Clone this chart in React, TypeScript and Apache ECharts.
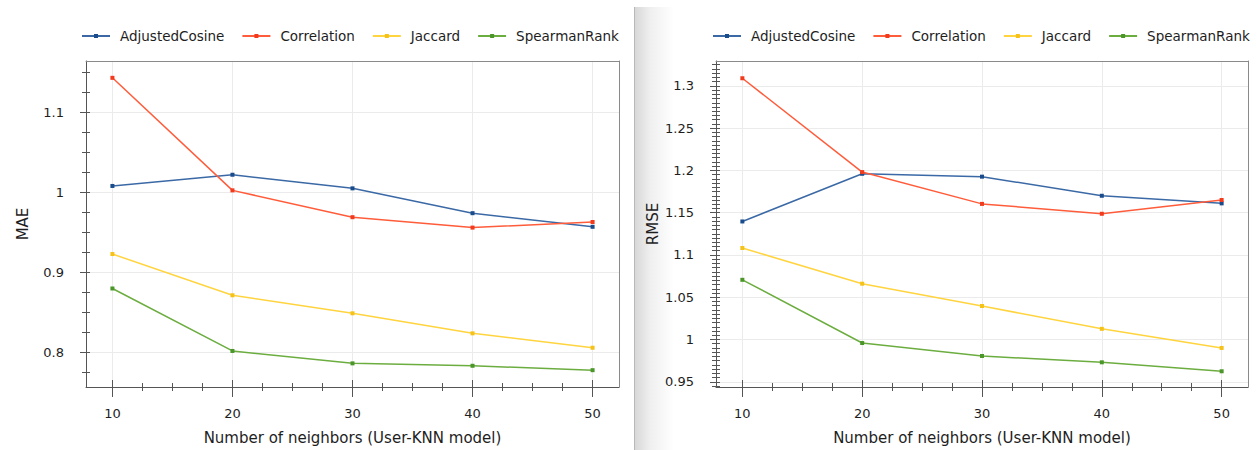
import React, { useEffect, useRef } from "react";
import * as echarts from "echarts";

const xValues = [10, 20, 30, 40, 50];
const seriesNames = ["AdjustedCosine", "Correlation", "Jaccard", "SpearmanRank"];

const maeAdjustedCosine = [1.008, 1.022, 1.005, 0.974, 0.957];
const maeCorrelation = [1.143, 1.0025, 0.969, 0.956, 0.963];
const maeJaccard = [0.923, 0.8715, 0.849, 0.824, 0.806];
const maeSpearmanRank = [0.88, 0.802, 0.7865, 0.7835, 0.778];

const rmseAdjustedCosine = [1.1396, 1.196, 1.1926, 1.17, 1.161];
const rmseCorrelation = [1.309, 1.198, 1.1604, 1.1487, 1.165];
const rmseJaccard = [1.1082, 1.066, 1.0396, 1.0126, 0.99];
const rmseSpearmanRank = [1.0706, 0.9958, 0.9805, 0.973, 0.9624];

const xTickLabels = [10, 20, 30, 40, 50];
const maeTickLabels = [0.8, 0.9, 1, 1.1];
const rmseTickLabels = [0.95, 1, 1.05, 1.1, 1.15, 1.2, 1.25, 1.3];

const lineColors = ["#3b69a6", "#ff5c3b", "#ffd43f", "#6cad40"];
const markerColors = ["#1a4c8c", "#f23a1c", "#f5c21a", "#4a9628"];

const FONT = "DejaVu Sans";
const TEXT = "#1e1e1e";

function steps(start: number, end: number, step: number): number[] {
  const out: number[] = [];
  const n = Math.round((end - start) / step);
  for (let i = 0; i <= n; i++) out.push(Math.round((start + i * step) * 10000) / 10000);
  return out;
}

const xMinorTicks = steps(10, 50, 2.5);
const maeMinorTicks = steps(0.775, 1.15, 0.025);
const rmseMinorTicks = steps(0.945, 1.325, 0.005);

const X_MIN = 7.8;
const X_MAX = 52.2;

function xAxes(gridIndex: number) {
  const base = { type: "value", gridIndex, min: X_MIN, max: X_MAX };
  return [
    {
      ...base,
      position: "bottom",
      axisLine: { show: true, lineStyle: { color: "#555", width: 1 } },
      axisTick: { show: false },
      axisLabel: { customValues: xTickLabels, margin: 20, color: TEXT, fontSize: 13, fontFamily: FONT },
      splitLine: { show: true, lineStyle: { color: "#ebebeb", width: 1 } },
      name: "Number of neighbors (User-KNN model)",
      nameLocation: "middle",
      nameGap: 43,
      nameTextStyle: { color: TEXT, fontSize: 15, fontFamily: FONT },
    },
    {
      ...base,
      position: "top",
      axisLine: { show: true, lineStyle: { color: "#8a8a8a", width: 1 } },
      axisTick: { show: false },
      axisLabel: { show: false },
      splitLine: { show: false },
    },
    {
      ...base,
      position: "bottom",
      offset: 10,
      axisLine: { show: false },
      axisTick: { show: true, inside: true, length: 17, customValues: xTickLabels, lineStyle: { color: "#555" } },
      axisLabel: { show: false },
      splitLine: { show: false },
    },
    {
      ...base,
      position: "bottom",
      offset: 4,
      axisLine: { show: false },
      axisTick: { show: true, inside: true, length: 8, customValues: xMinorTicks, lineStyle: { color: "#555" } },
      axisLabel: { show: false },
      splitLine: { show: false },
    },
  ];
}

function yAxes(gridIndex: number, min: number, max: number, splitNumber: number, labels: number[], minor: number[], name: string) {
  const base = { type: "value", gridIndex, min, max };
  return [
    {
      ...base,
      position: "left",
      splitNumber,
      axisLine: { show: true, lineStyle: { color: "#555", width: 1 } },
      axisTick: { show: false },
      axisLabel: { customValues: labels, margin: 22, color: TEXT, fontSize: 13, fontFamily: FONT },
      splitLine: { show: true, lineStyle: { color: "#ebebeb", width: 1 } },
      name,
      nameLocation: "middle",
      nameGap: 56,
      nameTextStyle: { color: TEXT, fontSize: 15, fontFamily: FONT },
    },
    {
      ...base,
      position: "right",
      axisLine: { show: true, lineStyle: { color: "#8a8a8a", width: 1 } },
      axisTick: { show: false },
      axisLabel: { show: false },
      splitLine: { show: false },
    },
    {
      ...base,
      position: "left",
      offset: 6,
      axisLine: { show: false },
      axisTick: { show: true, inside: true, length: 10, customValues: labels, lineStyle: { color: "#555" } },
      axisLabel: { show: false },
      splitLine: { show: false },
    },
    {
      ...base,
      position: "left",
      offset: 4,
      axisLine: { show: false },
      axisTick: { show: true, inside: true, length: 8, customValues: minor, lineStyle: { color: "#555" } },
      axisLabel: { show: false },
      splitLine: { show: false },
    },
  ];
}

function makeSeries(gridIndex: number, values: number[][]) {
  return values.map((vals, i) => ({
    type: "line",
    name: seriesNames[i],
    xAxisIndex: gridIndex * 4,
    yAxisIndex: gridIndex * 4,
    data: xValues.map((x, j) => [x, vals[j]]),
    symbol: "rect",
    symbolSize: 4,
    showSymbol: true,
    lineStyle: { color: lineColors[i], width: 1.5 },
    itemStyle: { color: markerColors[i] },
    z: 3 + i,
  }));
}

function legend(left: number) {
  return {
    left,
    top: 24,
    width: 600,
    orient: "horizontal",
    itemWidth: 28,
    itemHeight: 5,
    itemGap: 17,
    data: seriesNames,
    textStyle: { color: TEXT, fontSize: 13.5, fontFamily: FONT, padding: [0, 0, 0, 5] },
  };
}

export default function App() {
  const ref = useRef<HTMLDivElement>(null);
  useEffect(() => {
    if (!ref.current) return;
    const chart = echarts.init(ref.current, undefined, { renderer: "svg" });
    const option = {
      animation: false,
      backgroundColor: "#ffffff",
      textStyle: { fontFamily: FONT },
      legend: [legend(76), legend(707)],
      grid: [
        { left: 86, top: 61, width: 533, height: 328, show: false },
        { left: 716, top: 61, width: 532, height: 328, show: false },
      ],
      xAxis: [...xAxes(0), ...xAxes(1)],
      yAxis: [
        ...yAxes(0, 0.757, 1.164, 5, maeTickLabels, maeMinorTicks, "MAE"),
        ...yAxes(1, 0.9438, 1.3294, 8, rmseTickLabels, rmseMinorTicks, "RMSE"),
      ],
      graphic: [
        {
          type: "rect",
          silent: true,
          z: -10,
          shape: { x: 634, y: 7, width: 40, height: 443 },
          style: {
            fill: new echarts.graphic.LinearGradient(0, 0, 1, 0, [
              { offset: 0, color: "#d6d6d6" },
              { offset: 0.4, color: "#efefef" },
              { offset: 1, color: "#ffffff" },
            ]),
          },
        },
        {
          type: "line",
          silent: true,
          z: -9,
          shape: { x1: 634.5, y1: 7, x2: 634.5, y2: 450 },
          style: { stroke: "#b8b8b8", lineWidth: 1 },
        },
      ],
      series: [
        ...makeSeries(0, [maeAdjustedCosine, maeCorrelation, maeJaccard, maeSpearmanRank]),
        ...makeSeries(1, [rmseAdjustedCosine, rmseCorrelation, rmseJaccard, rmseSpearmanRank]),
      ],
    };
    chart.setOption(option as any);
    return () => chart.dispose();
  }, []);
  return <div ref={ref} style={{ position: "absolute", left: 0, top: 0, width: 1257, height: 450 }} />;
}
